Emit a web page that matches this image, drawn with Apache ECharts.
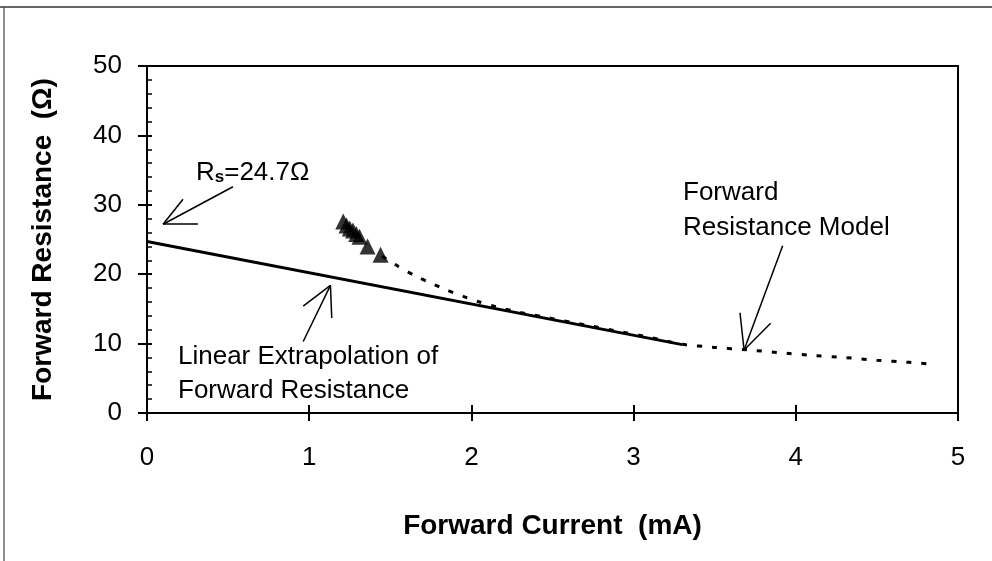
<!DOCTYPE html>
<html>
<head>
<meta charset="utf-8">
<script src="https://cdn.jsdelivr.net/npm/echarts@6/dist/echarts.min.js"></script>
<style>
html,body{margin:0;padding:0;background:#fff;}
#chart{width:992px;height:561px;}
</style>
</head>
<body>
<div id="chart"></div>
<script>
// ---- data ----
const xTicks = [0, 1, 2, 3, 4, 5];
const yTicks = [0, 10, 20, 30, 40, 50];
const measuredX = [1.21, 1.23, 1.25, 1.27, 1.29, 1.31, 1.36, 1.44];
const measuredY = [27.6, 27.0, 26.6, 26.3, 25.8, 25.4, 24.0, 22.8];
const modelX = [1.45, 1.55, 1.65, 1.75, 1.85, 1.95, 2.05, 2.15, 2.3, 2.5, 2.7, 2.9, 3.1, 3.3, 3.5, 3.7, 3.9, 4.1, 4.3, 4.5, 4.7, 4.85];
const modelY = [22.6, 21.1, 19.8, 18.7, 17.7, 16.8, 16.0, 15.3, 14.5, 13.6, 12.7, 11.8, 10.9, 9.9, 9.45, 9.1, 8.7, 8.3, 8.0, 7.6, 7.3, 7.0];
const linearX = [0, 3.3];
const linearY = [24.7, 9.85];
// annotation arrows: [x1, y1, x2, y2] in data units
const arrowSegments = [
  [0.530, 32.6, 0.099, 27.2], [0.099, 27.2, 0.222, 30.8], [0.099, 27.2, 0.314, 27.2],
  [0.963, 10.3, 1.131, 18.4], [1.131, 18.4, 0.963, 15.4], [1.131, 18.4, 1.139, 13.7],
  [3.919, 24.1, 3.681, 9.08], [3.681, 9.08, 3.656, 14.45], [3.681, 9.08, 3.845, 12.93]
];
const xTitle = 'Forward Current  (mA)';
const yTitle = 'Forward Resistance  (\u03A9)';

// ---- chart ----
const FONT = '"Liberation Sans", Arial, sans-serif';
const chart = echarts.init(document.getElementById('chart'), null, {renderer: 'canvas'});
const zip = (a, b) => a.map((v, i) => [v, b[i]]);

const option = {
  animation: false,
  backgroundColor: '#fff',
  grid: {left: 147, right: 34, top: 66, bottom: 148, show: true, borderColor: '#000', borderWidth: 2, backgroundColor: 'transparent'},
  xAxis: [
    {
      type: 'value', min: xTicks[0], max: xTicks[xTicks.length - 1], interval: 1, position: 'bottom',
      axisLine: {show: true, onZero: false, lineStyle: {color: '#000', width: 2}},
      axisTick: {show: true, inside: false, length: 8, lineStyle: {color: '#000', width: 2}},
      axisLabel: {color: '#000', fontSize: 26, fontFamily: FONT, margin: 32},
      splitLine: {show: false},
      name: xTitle, nameLocation: 'middle', nameGap: 99,
      nameTextStyle: {color: '#000', fontSize: 28, fontWeight: 'bold', fontFamily: FONT}
    },
    {
      type: 'value', min: xTicks[0], max: xTicks[xTicks.length - 1], interval: 1, position: 'bottom', offset: 0,
      axisLine: {show: false, onZero: false},
      axisTick: {show: true, inside: true, length: 8, lineStyle: {color: '#000', width: 2}},
      axisLabel: {show: false}, splitLine: {show: false}
    }
  ],
  yAxis: [
    {
      type: 'value', min: yTicks[0], max: yTicks[yTicks.length - 1], interval: 10, position: 'left',
      axisLine: {show: true, onZero: false, lineStyle: {color: '#000', width: 2}},
      axisTick: {show: true, inside: false, length: 9, lineStyle: {color: '#000', width: 2}},
      axisLabel: {color: '#000', fontSize: 26, fontFamily: FONT, margin: 25},
      splitLine: {show: false},
      name: yTitle, nameLocation: 'middle', nameGap: 90, nameRotate: 90,
      nameTextStyle: {color: '#000', fontSize: 28, fontWeight: 'bold', fontFamily: FONT}
    },
    {
      type: 'value', min: yTicks[0], max: yTicks[yTicks.length - 1], interval: 10, position: 'left', offset: 0,
      axisLine: {show: false, onZero: false},
      axisTick: {show: true, inside: true, length: 5, lineStyle: {color: '#000', width: 2}},
      minorTick: {show: true, splitNumber: 5, length: 5, lineStyle: {color: '#000', width: 1.5}},
      axisLabel: {show: false}, splitLine: {show: false}, minorSplitLine: {show: false}
    }
  ],
  series: [
    {
      type: 'line', name: 'Linear Extrapolation', data: zip(linearX, linearY), symbol: 'none',
      lineStyle: {color: '#000', width: 3}, z: 3,
      markLine: {
        silent: true, symbol: ['none', 'none'], animation: false,
        label: {show: false},
        lineStyle: {color: '#000', width: 1.5, type: 'solid'},
        emphasis: {disabled: true},
        data: arrowSegments.map(s => [{coord: [s[0], s[1]]}, {coord: [s[2], s[3]]}])
      }
    },
    {
      type: 'line', name: 'Forward Resistance Model', data: zip(modelX, modelY), symbol: 'none', smooth: 0.2,
      lineStyle: {color: '#000', width: 3, type: [5, 10]}, z: 4
    },
    {
      type: 'scatter', name: 'Measured', data: zip(measuredX, measuredY), symbol: 'triangle', symbolSize: 16,
      itemStyle: {color: '#000'}, z: 5
    }
  ],
  graphic: [
    {type: 'line', shape: {x1: 0, y1: 7, x2: 992, y2: 7}, style: {stroke: '#333', lineWidth: 1.5}, silent: true},
    {type: 'line', shape: {x1: 4, y1: 7, x2: 4, y2: 561}, style: {stroke: '#444', lineWidth: 1.2}, silent: true},
    {
      type: 'text', left: 196, top: 155, silent: true,
      style: {
        text: '{a|R}{s|s}{a|=24.7\u03A9}',
        rich: {
          a: {fontSize: 26, fontFamily: FONT, fill: '#000', lineHeight: 26, verticalAlign: 'top'},
          s: {fontSize: 17, fontFamily: FONT, fontWeight: 'bold', fill: '#000', lineHeight: 17, verticalAlign: 'bottom', padding: [14, 0, 0, 0]}
        }
      }
    },
    {
      type: 'text', left: 178, top: 340, silent: true,
      style: {text: 'Linear Extrapolation of\nForward Resistance', fontSize: 26, fontFamily: FONT, fill: '#000', lineHeight: 34}
    },
    {
      type: 'text', left: 683, top: 175, silent: true,
      style: {text: 'Forward\nResistance Model', fontSize: 26, fontFamily: FONT, fill: '#000', lineHeight: 35}
    }
  ]
};
chart.setOption(option);
</script>
</body>
</html>
